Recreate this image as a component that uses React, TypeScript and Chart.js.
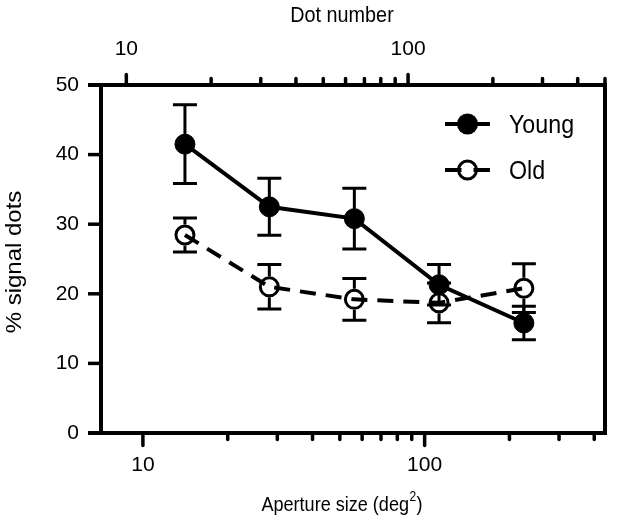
import React, { useEffect, useRef } from 'react';
import { Chart, registerables } from 'chart.js';

Chart.register(...registerables);

// ---- data ----
const apertureSizes = [14.1, 28.1, 56.3, 112.5, 225];
const youngValues = [41.5, 32.5, 30.8, 21.3, 15.8];
const youngErrors = [5.65, 4.1, 4.35, 2.9, 2.4];
const oldValues = [28.45, 21.0, 19.2, 18.7, 20.8];
const oldErrors = [2.45, 3.2, 3.0, 2.85, 3.5];

const yTickValues = [0, 10, 20, 30, 40, 50];
const apertureTickValues = [10, 20, 30, 40, 50, 60, 70, 80, 90, 100, 200, 300, 400];
const dotTickValues = [10, 20, 30, 40, 50, 60, 70, 80, 90, 100, 200, 300, 400, 500];
const labeledTickValues = [10, 100];
const apertureRange = [7.1, 436.7];
const dotRange = [8.13, 500];

const seriesNames = ['Young', 'Old'];
const xTitle = 'Aperture size (deg';
const xTitleSup = '2';
const x2Title = 'Dot number';
const yTitle = '% signal dots';

const FONT = '"Liberation Sans", Arial, Helvetica, sans-serif';

function drawText(
  ctx: CanvasRenderingContext2D,
  text: string,
  x: number,
  y: number,
  size: number,
  align: CanvasTextAlign,
  squeeze = 0.9
) {
  ctx.save();
  ctx.translate(x, y);
  ctx.scale(squeeze, 1);
  ctx.font = `${size}px ${FONT}`;
  ctx.textAlign = align;
  ctx.textBaseline = 'alphabetic';
  ctx.fillStyle = '#000';
  ctx.fillText(text, 0, 0);
  ctx.restore();
}

function drawVerticalText(ctx: CanvasRenderingContext2D, text: string, x: number, y: number, size: number) {
  ctx.save();
  ctx.translate(x, y);
  ctx.rotate(-Math.PI / 2);
  ctx.scale(1, 0.9);
  ctx.font = `${size}px ${FONT}`;
  ctx.textAlign = 'center';
  ctx.textBaseline = 'alphabetic';
  ctx.fillStyle = '#000';
  ctx.fillText(text, 0, 0);
  ctx.restore();
}

const errorBarPlugin = {
  id: 'errorBars',
  beforeDatasetsDraw(chart: any) {
    const ctx = chart.ctx as CanvasRenderingContext2D;
    const yScale = chart.scales.y;
    const errs = [youngErrors, oldErrors];
    const vals = [youngValues, oldValues];
    const gaps = [0, 10.5];
    ctx.save();
    ctx.strokeStyle = '#000';
    ctx.lineWidth = 3;
    ctx.lineCap = 'butt';
    chart.data.datasets.forEach((_: any, di: number) => {
      const meta = chart.getDatasetMeta(di);
      meta.data.forEach((pt: any, i: number) => {
        const x = pt.x;
        const y = pt.y;
        const top = yScale.getPixelForValue(vals[di][i] + errs[di][i]);
        const bot = yScale.getPixelForValue(vals[di][i] - errs[di][i]);
        const g = gaps[di];
        ctx.beginPath();
        ctx.moveTo(x, y - g);
        ctx.lineTo(x, top);
        ctx.moveTo(x, y + g);
        ctx.lineTo(x, bot);
        ctx.moveTo(x - 12, top);
        ctx.lineTo(x + 12, top);
        ctx.moveTo(x - 12, bot);
        ctx.lineTo(x + 12, bot);
        ctx.stroke();
      });
    });
    ctx.restore();
  },
};

const decorPlugin = {
  id: 'decor',
  afterDraw(chart: any) {
    const ctx = chart.ctx as CanvasRenderingContext2D;
    const area = chart.chartArea;
    const xs = chart.scales.x;
    const x2s = chart.scales.x2;
    const ys = chart.scales.y;
    ctx.save();
    ctx.strokeStyle = '#000';
    ctx.fillStyle = '#000';

    // right frame line
    ctx.lineWidth = 4;
    ctx.lineCap = 'square';
    ctx.beginPath();
    ctx.moveTo(area.right, area.top);
    ctx.lineTo(area.right, area.bottom);
    ctx.stroke();

    // y ticks
    ctx.lineCap = 'butt';
    yTickValues.forEach((v) => {
      const p = ys.getPixelForValue(v);
      ctx.lineWidth = v === 0 || v === 50 ? 4 : 3.5;
      ctx.beginPath();
      ctx.moveTo(area.left - 13, p);
      ctx.lineTo(area.left, p);
      ctx.stroke();
    });

    // bottom ticks
    ctx.lineWidth = 3.5;
    ctx.lineCap = 'round';
    apertureTickValues.forEach((v) => {
      const p = xs.getPixelForValue(v);
      const major = labeledTickValues.includes(v);
      ctx.beginPath();
      ctx.moveTo(p, area.bottom);
      ctx.lineTo(p, area.bottom + (major ? 12.5 : 6.5));
      ctx.stroke();
    });
    // top ticks
    dotTickValues.forEach((v) => {
      const p = x2s.getPixelForValue(v);
      const major = labeledTickValues.includes(v);
      ctx.beginPath();
      ctx.moveTo(p, area.top);
      ctx.lineTo(p, area.top - (major ? 10.5 : 6.5));
      ctx.stroke();
    });

    // titles
    const cx = area.left + 241;
    drawText(ctx, x2Title, cx, 22, 22, 'center');
    // bottom title with superscript
    const sq = 0.86;
    ctx.save();
    ctx.font = `21px ${FONT}`;
    const w1 = ctx.measureText(xTitle).width;
    const w3 = ctx.measureText(')').width;
    ctx.font = `14px ${FONT}`;
    const w2 = ctx.measureText(xTitleSup).width;
    ctx.restore();
    const total = (w1 + w2 + w3 + 1) * sq;
    let sx = cx - total / 2;
    drawText(ctx, xTitle, sx, 511, 21, 'left', sq);
    sx += w1 * sq;
    drawText(ctx, xTitleSup, sx + 0.5, 501, 14, 'left', sq);
    sx += (w2 + 1) * sq;
    drawText(ctx, ')', sx, 511, 21, 'left', sq);

    drawVerticalText(ctx, yTitle, 21, (area.top + area.bottom) / 2 + 3, 24);

    // legend
    const lx0 = area.left + 344;
    const lx1 = area.left + 389;
    const lmid = (lx0 + lx1) / 2;
    const rows = [area.top + 39, area.top + 85];
    ctx.lineCap = 'butt';
    // Young
    ctx.lineWidth = 4;
    ctx.beginPath();
    ctx.moveTo(lx0, rows[0]);
    ctx.lineTo(lx1, rows[0]);
    ctx.stroke();
    ctx.beginPath();
    ctx.arc(lmid, rows[0], 10.5, 0, Math.PI * 2);
    ctx.fill();
    // Old
    ctx.beginPath();
    ctx.moveTo(lx0, rows[1]);
    ctx.lineTo(lmid - 6, rows[1]);
    ctx.moveTo(lmid + 6, rows[1]);
    ctx.lineTo(lx1, rows[1]);
    ctx.stroke();
    ctx.lineWidth = 3;
    ctx.beginPath();
    ctx.arc(lmid, rows[1], 9, 0, Math.PI * 2);
    ctx.stroke();
    drawText(ctx, seriesNames[0], area.left + 408, rows[0] + 8.5, 25, 'left', 0.93);
    drawText(ctx, seriesNames[1], area.left + 408, rows[1] + 8.5, 25, 'left', 0.93);

    ctx.restore();
  },
};

const tickFont = { family: FONT, size: 21 };

export default function App() {
  const ref = useRef<HTMLCanvasElement>(null);

  useEffect(() => {
    if (!ref.current) return;
    const chart = new Chart(ref.current, {
      type: 'line',
      data: {
        datasets: [
          {
            label: seriesNames[0],
            data: apertureSizes.map((x, i) => ({ x, y: youngValues[i] })),
            borderColor: '#000',
            borderWidth: 4,
            pointRadius: 10,
            pointBackgroundColor: '#000',
            pointBorderColor: '#000',
            pointBorderWidth: 1,
            tension: 0,
            xAxisID: 'x',
            yAxisID: 'y',
          },
          {
            label: seriesNames[1],
            data: apertureSizes.map((x, i) => ({ x, y: oldValues[i] })),
            borderColor: '#000',
            borderWidth: 4,
            borderDash: [16, 10],
            pointRadius: 9,
            pointBackgroundColor: 'rgba(0,0,0,0)',
            pointBorderColor: '#000',
            pointBorderWidth: 3,
            tension: 0,
            xAxisID: 'x',
            yAxisID: 'y',
          },
        ],
      },
      options: {
        responsive: false,
        animation: false,
        devicePixelRatio: 1,
        layout: { padding: { left: 0, right: 10, top: 0, bottom: 0 } },
        plugins: {
          legend: { display: false },
          tooltip: { enabled: false },
        },
        scales: {
          x: {
            type: 'logarithmic',
            position: 'bottom',
            min: apertureRange[0],
            max: apertureRange[1],
            afterBuildTicks: (s: any) => {
              s.ticks = apertureTickValues.map((v) => ({ value: v }));
            },
            afterFit: (s: any) => {
              s.height = 94;
            },
            grid: { display: false, drawTicks: false },
            border: { display: true, width: 4, color: '#000' },
            ticks: {
              autoSkip: false,
              maxRotation: 0,
              padding: 20,
              color: '#000',
              font: tickFont,
              callback: (v: any) => (labeledTickValues.includes(Number(v)) ? String(v) : ''),
            },
          },
          x2: {
            type: 'logarithmic',
            position: 'top',
            min: dotRange[0],
            max: dotRange[1],
            afterBuildTicks: (s: any) => {
              s.ticks = dotTickValues.map((v) => ({ value: v }));
            },
            afterFit: (s: any) => {
              s.height = 85;
            },
            grid: { display: false, drawTicks: false },
            border: { display: true, width: 4, color: '#000' },
            ticks: {
              autoSkip: false,
              maxRotation: 0,
              padding: 23,
              color: '#000',
              font: tickFont,
              callback: (v: any) => (labeledTickValues.includes(Number(v)) ? String(v) : ''),
            },
          },
          y: {
            type: 'linear',
            position: 'left',
            min: 0,
            max: 50,
            afterBuildTicks: (s: any) => {
              s.ticks = yTickValues.map((v) => ({ value: v }));
            },
            afterFit: (s: any) => {
              s.width = 101;
            },
            grid: { display: false, drawTicks: false },
            border: { display: true, width: 4, color: '#000' },
            ticks: {
              padding: 22,
              color: '#000',
              font: tickFont,
            },
          },
        },
      } as any,
      plugins: [errorBarPlugin, decorPlugin],
    });
    return () => chart.destroy();
  }, []);

  return (
    <div style={{ position: 'fixed', left: 0, top: 0, width: 628, height: 527, background: '#fff' }}>
      <canvas ref={ref} width={628} height={527} style={{ display: 'block' }} />
    </div>
  );
}
